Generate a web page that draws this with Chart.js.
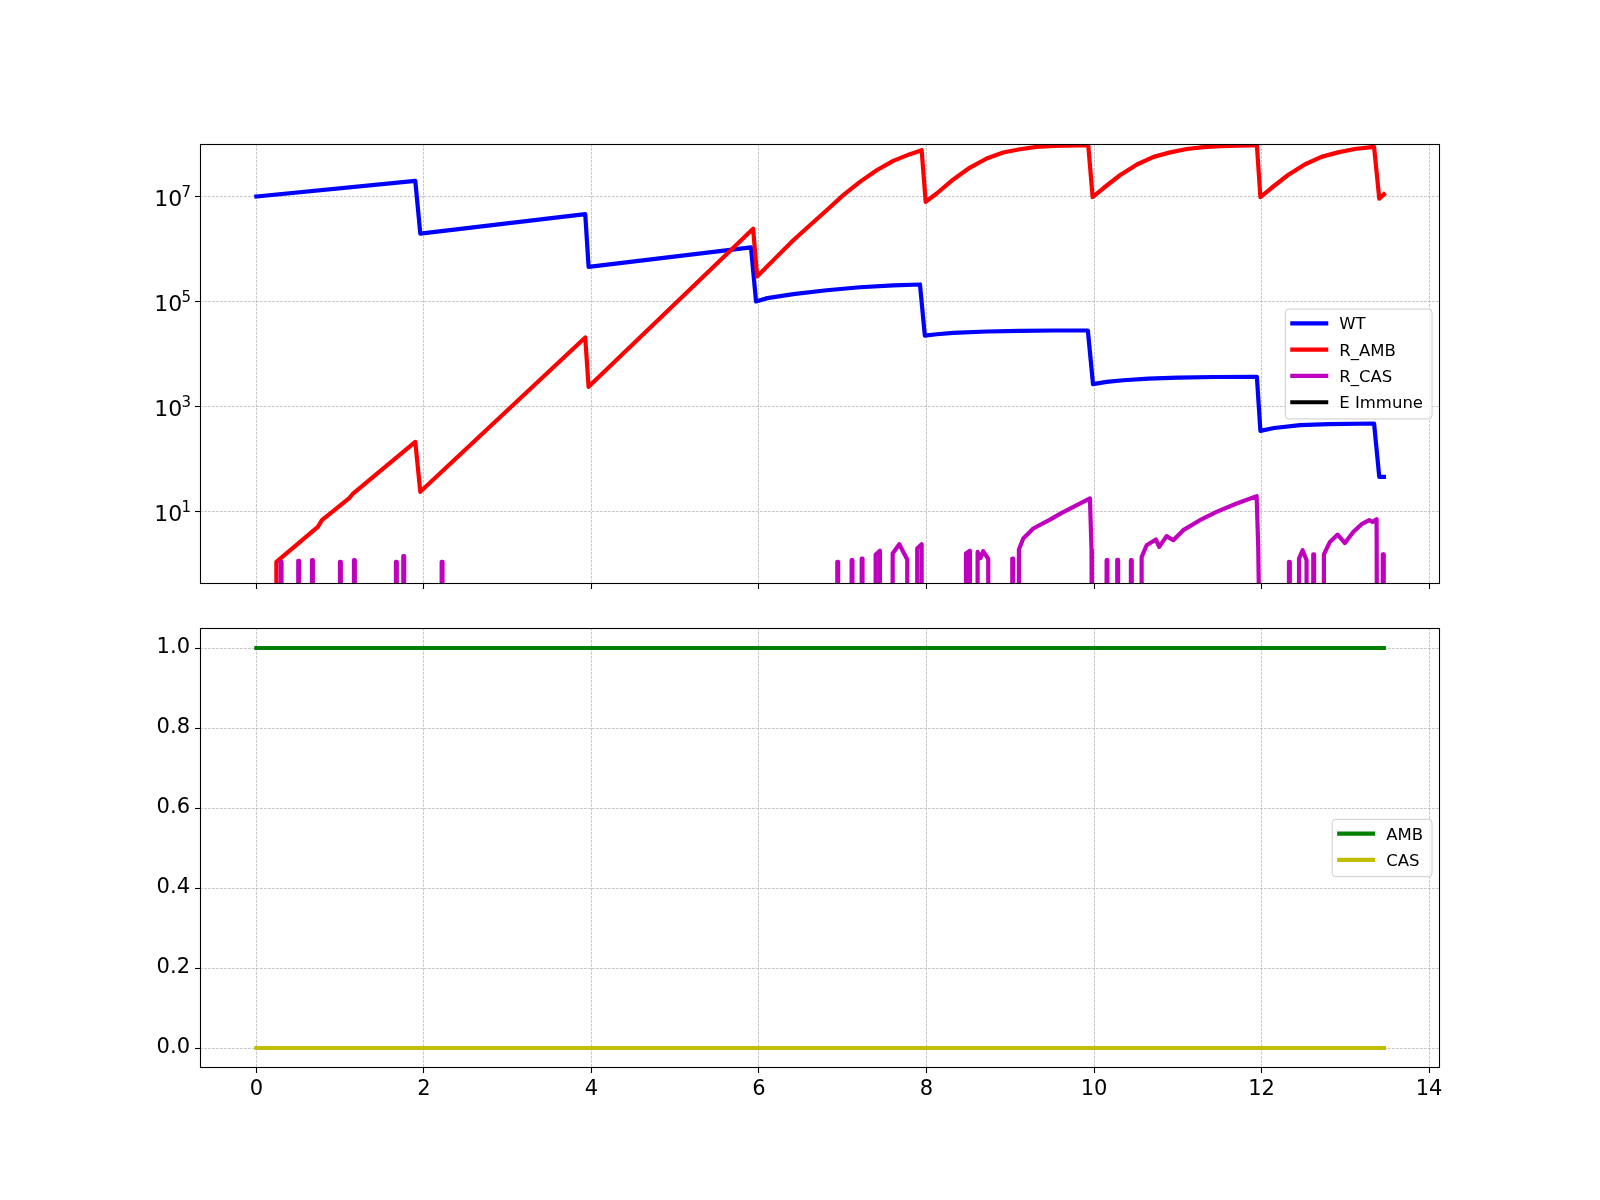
<!DOCTYPE html>
<html><head><meta charset="utf-8">
<script src="https://cdn.jsdelivr.net/npm/chart.js@4.4.0/dist/chart.umd.min.js"></script>
<style>
html,body{margin:0;padding:0;background:#fff;}
#wrap{position:relative;width:1600px;height:1200px;background:#fff;overflow:hidden;}
canvas{position:absolute;left:0;}
</style></head><body>
<div id="wrap">
<canvas id="c1" width="1600" height="606" style="top:0px"></canvas>
<canvas id="c2" width="1600" height="594" style="top:606px"></canvas>
</div>
<script>
// ---------- data ----------
const xTicks = [0, 2, 4, 6, 8, 10, 12, 14];
const logTicks = [1e1, 1e3, 1e5, 1e7];
const logTickBase = ['10', '10', '10', '10'];
const logTickExp = ['1', '3', '5', '7'];
const linTicks = [0.0, 0.2, 0.4, 0.6, 0.8, 1.0];

const popLabels = ['WT', 'R_AMB', 'R_CAS', 'E Immune'];
const drugLabels = ['AMB', 'CAS'];

const wtT = [0, 1.897, 1.957, 3.926, 3.966, 5.905, 5.965, 6.1, 6.41, 6.808, 7.205, 7.603, 7.922, 7.98, 8.121, 8.32, 8.718, 9.115, 9.513, 9.926, 9.988, 10.15, 10.35, 10.65, 11.0, 11.43, 11.944, 11.986, 12.15, 12.46, 12.8, 13.343, 13.405, 13.46];
const wtV = [1.0e7, 1.99e7, 1.97e6, 4.6e6, 4.57e5, 1.07e6, 1.0e5, 1.16e5, 1.38e5, 1.64e5, 1.87e5, 2.02e5, 2.11e5, 2.24e4, 2.38e4, 2.52e4, 2.68e4, 2.75e4, 2.80e4, 2.80e4, 2.66e3, 2.95e3, 3.16e3, 3.39e3, 3.55e3, 3.65e3, 3.67e3, 344, 389, 441, 462, 474, 45.7, 45.7];

const rAmbT = [0, 0.239, 0.239, 0.734, 0.783, 1.105, 1.154, 1.897, 1.957, 3.926, 3.966, 5.930, 5.978, 6.211, 6.41, 6.608, 6.808, 7.006, 7.205, 7.405, 7.603, 7.802, 7.942, 7.99, 8.121, 8.32, 8.519, 8.718, 8.916, 9.115, 9.315, 9.513, 9.931, 9.983, 10.114, 10.313, 10.512, 10.711, 10.91, 11.108, 11.308, 11.506, 11.944, 11.986, 12.117, 12.316, 12.515, 12.714, 12.913, 13.111, 13.343, 13.405, 13.46];
const rAmbV = [0, 0, 1.10, 5.1, 6.84, 17.7, 22.0, 212, 23.7, 2.06e4, 2.37e3, 2.44e6, 3.0e5, 7.08e5, 1.47e6, 2.84e6, 5.48e6, 1.06e7, 1.90e7, 3.16e7, 4.76e7, 6.40e7, 7.62e7, 7.89e6, 1.14e7, 2.11e7, 3.56e7, 5.30e7, 6.89e7, 7.94e7, 8.81e7, 9.20e7, 9.48e7, 9.77e6, 1.45e7, 2.57e7, 4.07e7, 5.69e7, 6.92e7, 8.04e7, 8.71e7, 9.12e7, 9.48e7, 9.77e6, 1.45e7, 2.57e7, 4.07e7, 5.69e7, 6.92e7, 8.04e7, 8.79e7, 9.12e6, 1.10e7];

const rCasT = [0,
 0.29,0.29,0.30,0.30,
 0.50,0.50,0.51,0.51,
 0.664,0.664,0.674,0.674,
 0.998,0.998,1.008,1.008,
 1.165,1.165,1.175,1.175,
 1.666,1.666,1.676,1.676,
 1.754,1.754,1.764,1.764,
 2.212,2.212,2.222,2.222,
 6.935,6.935,6.945,6.945,
 7.106,7.106,7.116,7.116,
 7.226,7.226,7.236,7.236,
 7.393,7.393,7.444,7.444,
 7.596,7.596,7.675,7.77,7.77,
 7.889,7.889,7.942,7.942,
 8.471,8.471,8.518,8.518,
 8.61,8.61,8.645,8.677,8.737,8.737,
 9.024,9.024,9.034,9.034,
 9.103,9.103,9.155,9.275,9.474,9.615,9.951,9.97,9.975,
 10.15,10.15,10.16,10.16,
 10.277,10.277,10.287,10.287,
 10.44,10.44,10.45,10.45,
 10.568,10.568,10.628,10.739,10.778,10.866,10.946,11.065,11.264,11.463,11.702,11.941,11.96,11.99,
 12.327,12.327,12.337,12.337,
 12.447,12.447,12.49,12.537,12.537,
 12.617,12.617,12.627,12.627,
 12.744,12.744,12.816,12.908,12.995,13.094,13.194,13.285,13.325,13.373,13.38,
 13.447,13.447,13.457,13.457,
 13.46];
const rCasV = [0,
 0,1.10,1.10,0,
 0,1.15,1.15,0,
 0,1.18,1.18,0,
 0,1.10,1.10,0,
 0,1.18,1.18,0,
 0,1.10,1.10,0,
 0,1.41,1.41,0,
 0,1.10,1.10,0,
 0,1.10,1.10,0,
 0,1.18,1.18,0,
 0,1.27,1.27,0,
 0,1.51,1.78,0,
 0,1.58,2.38,1.22,0,
 0,1.97,2.38,0,
 0,1.58,1.78,0,
 0,1.7,1.3,1.75,1.25,0,
 0,1.27,1.27,0,
 0,1.88,3.06,4.74,7.0,9.4,17.7,1.83,0,
 0,1.18,1.18,0,
 0,1.20,1.20,0,
 0,1.18,1.18,0,
 0,1.36,2.28,2.92,2.12,3.39,2.84,4.41,6.82,9.84,14.2,19.5,2.12,0,
 0,1.10,1.10,0,
 0,1.27,1.83,1.18,0,
 0,1.53,1.53,0,
 0,1.53,2.63,3.63,2.51,4.08,5.73,6.82,6.31,7.13,0,
 0,1.53,1.53,0,
 0];

const immT = [0, 13.46];
const immV = [0, 0];

const drugT = [0, 13.46];
const ambConc = [1.0, 1.0];
const casConc = [0.0, 0.0];

// ---------- helpers ----------
const LOG_FLOOR = 1e-3; // non-positive values are drawn below the log axis (clipped), like matplotlib
function pts(ts, vs, floor) {
  if (ts.length !== vs.length) console.error('length mismatch', ts.length, vs.length);
  return ts.map((t, i) => ({x: t, y: (floor !== undefined && !(vs[i] > 0)) ? floor : vs[i]}));
}
const FONT = '"DejaVu Sans", "Liberation Sans", sans-serif';
const LW = 4.2;

function lineDs(label, data, color, order) {
  return {label, data, borderColor: color, backgroundColor: color, borderWidth: LW,
    pointRadius: 0, pointHoverRadius: 0, tension: 0, fill: false, showLine: true,
    borderJoinStyle: 'round', borderCapStyle: 'square', clip: 0, order};
}

const decor = {
  id: 'mplDecor',
  afterDatasetsDraw(chart, args, opts) {
    const ctx = chart.ctx, ca = chart.chartArea;
    ctx.save();
    // frame (all four spines)
    ctx.strokeStyle = '#000'; ctx.lineWidth = 1.1; ctx.setLineDash([]);
    ctx.strokeRect(ca.left + 0.5, ca.top + 0.5, ca.right - ca.left - 1, ca.bottom - ca.top - 1);
    // legend (loc = center right)
    const items = chart.data.datasets.map(d => ({label: d.label, color: d.borderColor}));
    const fs = 16.5;
    ctx.font = fs + 'px ' + FONT;
    const tw = Math.max(...items.map(it => ctx.measureText(it.label).width));
    const n = items.length;
    const w = 54 + tw + 9;
    const h = 14.3 + (n - 1) * 26.3 + 16.7;
    const x0 = ca.right - 8 - w;
    const y0 = (ca.top + ca.bottom) / 2 - h / 2;
    ctx.beginPath();
    if (ctx.roundRect) ctx.roundRect(x0, y0, w, h, 3.5); else ctx.rect(x0, y0, w, h);
    ctx.fillStyle = 'rgba(255,255,255,0.8)'; ctx.fill();
    ctx.strokeStyle = '#cccccc'; ctx.lineWidth = 1; ctx.stroke();
    items.forEach((it, i) => {
      const y = y0 + 14.3 + i * 26.3;
      ctx.beginPath(); ctx.moveTo(x0 + 7.1, y); ctx.lineTo(x0 + 40.9, y);
      ctx.strokeStyle = it.color; ctx.lineWidth = LW; ctx.lineCap = 'square'; ctx.stroke();
      ctx.fillStyle = '#000'; ctx.textAlign = 'left'; ctx.textBaseline = 'alphabetic';
      ctx.fillText(it.label, x0 + 54, y + 6);
    });
    // log tick labels with superscript exponents
    if (opts && opts.logLabels) {
      const ys = chart.scales.y;
      logTicks.forEach((v, i) => {
        const py = ys.getPixelForValue(v);
        ctx.fillStyle = '#000'; ctx.textBaseline = 'alphabetic';
        ctx.font = '22px ' + FONT; ctx.textAlign = 'right';
        ctx.fillText(logTickBase[i], 182.2, py + 9.6);
        ctx.font = '15px ' + FONT; ctx.textAlign = 'left';
        ctx.fillText(logTickExp[i], 181.5, py + 0.5);
      });
    }
    ctx.restore();
  }
};

const gridOpts = {color: '#b0b0b0', lineWidth: 0.7, drawTicks: true, tickLength: 5,
  tickColor: '#000', tickWidth: 1.1, tickBorderDash: []};
const borderOpts = {display: false, dash: [2.8, 1.2]};

function xScale(showLabels, h) {
  return {
    type: 'linear', min: -0.673, max: 14.13,
    grid: gridOpts, border: borderOpts,
    ticks: {display: showLabels, padding: 4, maxRotation: 0, autoSkip: false,
      color: '#000', font: {family: FONT, size: 21}, callback: v => String(v)},
    afterBuildTicks: s => { s.ticks = xTicks.map(v => ({value: v})); },
    afterFit: s => { s.height = h; }
  };
}

Chart.defaults.font.family = FONT;

new Chart(document.getElementById('c1'), {
  type: 'line',
  data: {datasets: [
    lineDs(popLabels[0], pts(wtT, wtV, LOG_FLOOR), '#0000ff', 4),
    lineDs(popLabels[1], pts(rAmbT, rAmbV, LOG_FLOOR), '#ff0000', 3),
    lineDs(popLabels[2], pts(rCasT, rCasV, LOG_FLOOR), '#bf00bf', 2),
    lineDs(popLabels[3], pts(immT, immV, LOG_FLOOR), '#000000', 1)
  ]},
  options: {
    responsive: false, animation: false, devicePixelRatio: 1,
    layout: {padding: {left: 140, right: 160, top: 144, bottom: 0}},
    plugins: {legend: {display: false}, tooltip: {enabled: false}, mplDecor: {logLabels: true}},
    scales: {
      x: xScale(false, 22),
      y: {
        type: 'logarithmic', min: 0.4159, max: 1e8,
        grid: gridOpts, border: borderOpts,
        ticks: {display: false, padding: 5},
        afterBuildTicks: s => { s.ticks = logTicks.map(v => ({value: v})); },
        afterFit: s => { s.width = 60; }
      }
    }
  },
  plugins: [decor]
});

new Chart(document.getElementById('c2'), {
  type: 'line',
  data: {datasets: [
    lineDs(drugLabels[0], pts(drugT, ambConc), '#008000', 2),
    lineDs(drugLabels[1], pts(drugT, casConc), '#bfbf00', 1)
  ]},
  options: {
    responsive: false, animation: false, devicePixelRatio: 1,
    layout: {padding: {left: 140, right: 160, top: 22, bottom: 72}},
    plugins: {legend: {display: false}, tooltip: {enabled: false}, mplDecor: {logLabels: false}},
    scales: {
      x: xScale(true, 60),
      y: {
        type: 'linear', min: -0.05, max: 1.05,
        grid: gridOpts, border: borderOpts,
        ticks: {padding: 5, color: '#000', font: {family: FONT, size: 21},
          callback: v => Number(v).toFixed(1)},
        afterBuildTicks: s => { s.ticks = linTicks.map(v => ({value: v})); },
        afterFit: s => { s.width = 60; }
      }
    }
  },
  plugins: [decor]
});
</script>
</body></html>
